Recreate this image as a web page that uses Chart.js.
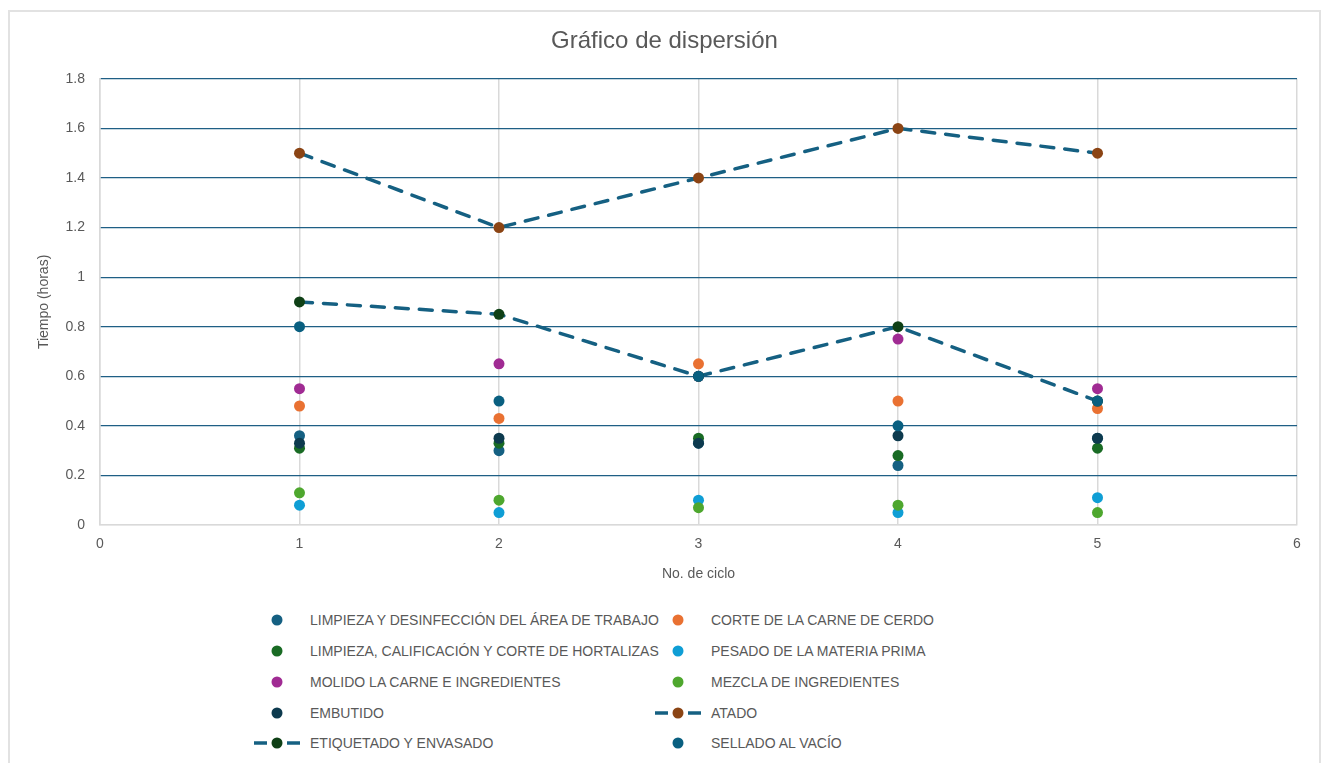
<!DOCTYPE html>
<html lang="es">
<head>
<meta charset="utf-8">
<title>Gráfico de dispersión</title>
<script src="https://cdn.jsdelivr.net/npm/chart.js@4.4.1/dist/chart.umd.min.js"></script>
<style>
  html, body { margin: 0; padding: 0; background: #fff; }
  body { width: 1329px; height: 763px; position: relative; overflow: hidden; font-family: "Liberation Sans", Arial, sans-serif; }
  #frame { position: absolute; left: 8px; top: 10px; width: 1313px; height: 800px; border: 2px solid #e2e2e2; box-sizing: border-box; }
  #chart { position: absolute; left: 0; top: 0; }
  #legend { position: absolute; left: 252px; top: 605px; display: grid; grid-template-columns: 401px 401px; grid-auto-rows: 30.75px; }
  .item { display: flex; align-items: center; font-size: 14px; color: #595959; white-space: nowrap; }
  .item svg { width: 50px; height: 14px; margin-right: 8px; flex: none; }
</style>
</head>
<body>
<div id="frame"></div>
<canvas id="chart" width="1329" height="600"></canvas>
<div id="legend"></div>
<script>
const cycles = [1, 2, 3, 4, 5];

const limpiezaArea = [0.36, 0.30, 0.33, 0.24, 0.35];
const corteCerdo = [0.48, 0.43, 0.65, 0.50, 0.47];
const limpiezaHortalizas = [0.31, 0.33, 0.35, 0.28, 0.31];
const pesado = [0.08, 0.05, 0.10, 0.05, 0.11];
const molido = [0.55, 0.65, 0.60, 0.75, 0.55];
const mezcla = [0.13, 0.10, 0.07, 0.08, 0.05];
const embutido = [0.33, 0.35, 0.33, 0.36, 0.35];
const atado = [1.5, 1.2, 1.4, 1.6, 1.5];
const etiquetado = [0.9, 0.85, 0.6, 0.8, 0.5];
const sellado = [0.8, 0.5, 0.6, 0.4, 0.5];

const xTicks = [0, 1, 2, 3, 4, 5, 6];
const yTicks = [0, 0.2, 0.4, 0.6, 0.8, 1, 1.2, 1.4, 1.6, 1.8];

const series = [
  { label: "LIMPIEZA Y DESINFECCIÓN DEL ÁREA DE TRABAJO", values: limpiezaArea, color: "#156082" },
  { label: "CORTE DE LA CARNE DE CERDO", values: corteCerdo, color: "#E97132" },
  { label: "LIMPIEZA, CALIFICACIÓN Y CORTE DE HORTALIZAS", values: limpiezaHortalizas, color: "#196B24" },
  { label: "PESADO DE LA MATERIA PRIMA", values: pesado, color: "#0F9ED5" },
  { label: "MOLIDO LA CARNE E INGREDIENTES", values: molido, color: "#A02B93" },
  { label: "MEZCLA DE INGREDIENTES", values: mezcla, color: "#4EA72E" },
  { label: "EMBUTIDO", values: embutido, color: "#0D3A4E" },
  { label: "ATADO", values: atado, color: "#8B4414", line: true },
  { label: "ETIQUETADO Y ENVASADO", values: etiquetado, color: "#0F4016", line: true },
  { label: "SELLADO AL VACÍO", values: sellado, color: "#095F80" },
];

const lineColor = "#156082";
const textColor = "#595959";
const fontFamily = "'Liberation Sans', Arial, sans-serif";

function toPoints(values) {
  return values.map((v, i) => ({ x: cycles[i], y: v }));
}

const datasets = series.map((s, i) => ({
  label: s.label,
  data: toPoints(s.values),
  showLine: !!s.line,
  borderColor: s.line ? lineColor : s.color,
  borderWidth: s.line ? 3.5 : 0,
  borderDash: s.line ? [13, 11] : [],
  borderCapStyle: "round",
  pointBackgroundColor: s.color,
  pointBorderColor: s.color,
  pointBorderWidth: 0,
  pointRadius: 5.5,
  // later series sit on top, like in the original
  order: series.length - i,
}));

const chart = new Chart(document.getElementById("chart"), {
  type: "scatter",
  data: { datasets },
  options: {
    responsive: false,
    animation: false,
    layout: { padding: { left: 32, right: 32, top: 0, bottom: 0 } },
    plugins: {
      legend: { display: false },
      tooltip: { enabled: false },
      title: {
        display: true,
        text: "Gráfico de dispersión",
        color: textColor,
        font: { family: fontFamily, size: 24, weight: "normal" },
        padding: { top: 27, bottom: 23 },
      },
    },
    scales: {
      x: {
        type: "linear",
        min: 0,
        max: 6,
        afterBuildTicks: (scale) => { scale.ticks = xTicks.map((v) => ({ value: v })); },
        afterFit: (scale) => { scale.height = 75; },
        grid: { color: "#d9d9d9", lineWidth: 1.5, drawTicks: false },
        border: { color: "#d9d9d9", width: 1.5 },
        ticks: { color: textColor, padding: 11, font: { family: fontFamily, size: 14 } },
        title: { display: true, text: "No. de ciclo", color: textColor, font: { family: fontFamily, size: 14 }, padding: { bottom: 17 } },
      },
      y: {
        type: "linear",
        min: 0,
        max: 1.8,
        afterBuildTicks: (scale) => { scale.ticks = yTicks.map((v) => ({ value: v })); },
        afterFit: (scale) => { scale.width = 68; },
        grid: {
          color: (ctx) => (ctx.tick && ctx.tick.value === 0 ? "#d9d9d9" : "#1f5f85"),
          lineWidth: 1.2,
          drawTicks: false,
        },
        border: { color: "#d9d9d9", width: 1.5 },
        ticks: {
          color: textColor,
          padding: 15,
          font: { family: fontFamily, size: 14 },
          callback: (value) => String(Number(value.toFixed(1))),
        },
        title: { display: true, text: "Tiempo (horas)", color: textColor, font: { family: fontFamily, size: 14 }, padding: { top: 4 } },
      },
    },
  },
});

function buildLegend(chart) {
  const box = document.getElementById("legend");
  chart.data.datasets.forEach((ds, i) => {
    const item = document.createElement("div");
    item.className = "item";
    let marker = "";
    if (series[i].line) {
      marker += `<line x1="2" y1="7" x2="15" y2="7" stroke="${lineColor}" stroke-width="3.5"/>`;
      marker += `<line x1="35" y1="7" x2="48" y2="7" stroke="${lineColor}" stroke-width="3.5"/>`;
    }
    marker += `<circle cx="25" cy="7" r="5.5" fill="${ds.pointBackgroundColor}"/>`;
    item.innerHTML = `<svg viewBox="0 0 50 14">${marker}</svg><span>${ds.label}</span>`;
    box.appendChild(item);
  });
}

buildLegend(chart);
</script>
</body>
</html>
